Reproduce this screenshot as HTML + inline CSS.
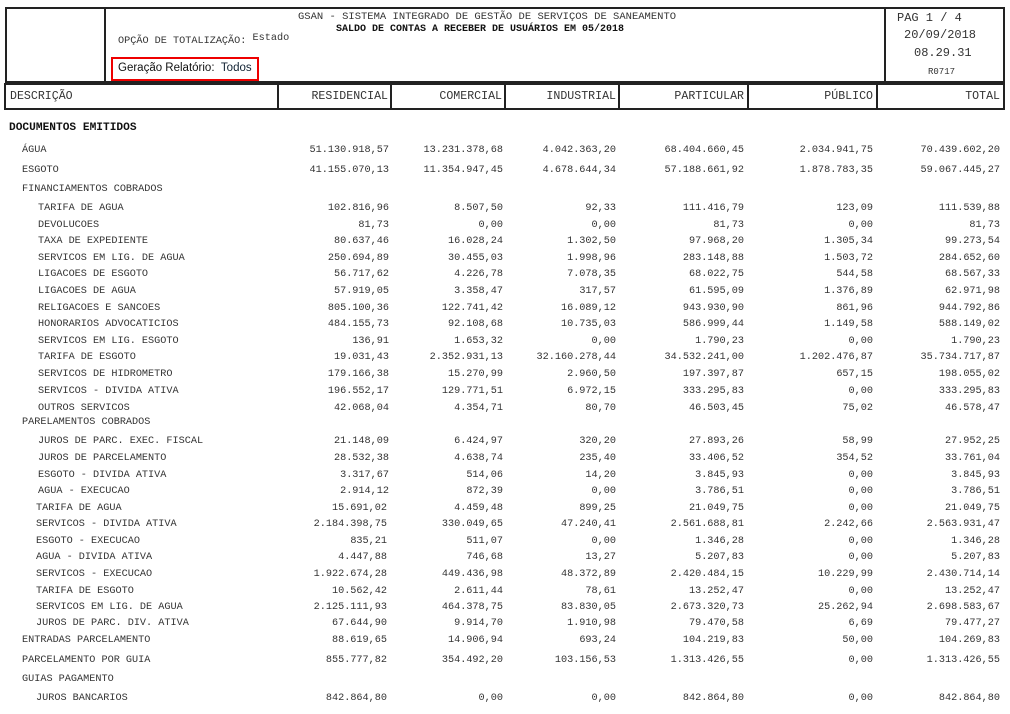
<!DOCTYPE html>
<html><head><meta charset="utf-8"><style>
body{margin:0;background:#fff;width:1010px;height:714px;position:relative;overflow:hidden;font-family:"Liberation Mono",monospace;color:#333}
.b{position:absolute;border:2px solid #222;box-sizing:border-box}
.t{position:absolute;white-space:nowrap;line-height:1}
.r{position:absolute;height:12px;left:0;width:1010px;font-size:10.2px;line-height:12px;margin-top:2px}
.r span{position:absolute;white-space:nowrap}
.c1{right:621px}.c2{right:507px}.c3{right:394px}.c4{right:266px}.c5{right:137px}.c6{right:10px}
.h{position:absolute;top:91px;font-size:11.6px;line-height:12px;white-space:nowrap}
</style></head><body>
<div class="b" style="left:5px;top:7px;width:1000px;height:76px"></div>
<div style="position:absolute;left:104px;top:7px;width:2px;height:76px;background:#222"></div>
<div style="position:absolute;left:884px;top:7px;width:2px;height:76px;background:#222"></div>
<div class="t" style="left:298px;top:12px;font-size:10.5px">GSAN - SISTEMA INTEGRADO DE GESTÃO DE SERVIÇOS DE SANEAMENTO</div>
<div class="t" style="left:336px;top:25px;font-size:10px;font-weight:bold;color:#111">SALDO DE CONTAS A RECEBER DE USUÁRIOS EM 05/2018</div>
<div class="t" style="left:118px;top:37px;font-size:10.2px">OPÇÃO DE TOTALIZAÇÃO: <span style="position:relative;top:-3px">Estado</span></div>
<div style="position:absolute;left:111px;top:57px;width:148px;height:24px;border:2px solid #e00;box-sizing:border-box"></div>
<div class="t" style="left:118px;top:63px;font-family:'Liberation Sans',sans-serif;font-size:11.5px;color:#111">Geração Relatório: &nbsp;<span style="color:#123">Todos</span></div>
<div class="t" style="left:897px;top:12px;font-size:12px">PAG 1 / 4</div>
<div class="t" style="left:904px;top:29px;font-size:12px">20/09/2018</div>
<div class="t" style="left:914px;top:47px;font-size:12px">08.29.31</div>
<div class="t" style="left:928px;top:68px;font-size:9px">R0717</div>
<div class="b" style="left:4px;top:83px;width:1001px;height:27px"></div>
<div style="position:absolute;left:277px;top:83px;width:2px;height:27px;background:#222"></div>
<div style="position:absolute;left:390px;top:83px;width:2px;height:27px;background:#222"></div>
<div style="position:absolute;left:504px;top:83px;width:2px;height:27px;background:#222"></div>
<div style="position:absolute;left:618px;top:83px;width:2px;height:27px;background:#222"></div>
<div style="position:absolute;left:747px;top:83px;width:2px;height:27px;background:#222"></div>
<div style="position:absolute;left:876px;top:83px;width:2px;height:27px;background:#222"></div>
<div class="h" style="left:10px">DESCRIÇÃO</div>
<div class="h" style="right:622px">RESIDENCIAL</div>
<div class="h" style="right:508px">COMERCIAL</div>
<div class="h" style="right:394px">INDUSTRIAL</div>
<div class="h" style="right:266px">PARTICULAR</div>
<div class="h" style="right:137px">PÚBLICO</div>
<div class="h" style="right:10px">TOTAL</div>
<div class="t" style="left:9px;top:123px;font-size:11.2px;font-weight:bold;color:#111">DOCUMENTOS EMITIDOS</div>

<div class="r" style="top:143px"><span style="left:22px">ÁGUA</span><span class="c1">51.130.918,57</span><span class="c2">13.231.378,68</span><span class="c3">4.042.363,20</span><span class="c4">68.404.660,45</span><span class="c5">2.034.941,75</span><span class="c6">70.439.602,20</span></div>
<div class="r" style="top:163px"><span style="left:22px">ESGOTO</span><span class="c1">41.155.070,13</span><span class="c2">11.354.947,45</span><span class="c3">4.678.644,34</span><span class="c4">57.188.661,92</span><span class="c5">1.878.783,35</span><span class="c6">59.067.445,27</span></div>
<div class="r" style="top:182px"><span style="left:22px">FINANCIAMENTOS COBRADOS</span></div>
<div class="r" style="top:201px"><span style="left:38px">TARIFA DE AGUA</span><span class="c1">102.816,96</span><span class="c2">8.507,50</span><span class="c3">92,33</span><span class="c4">111.416,79</span><span class="c5">123,09</span><span class="c6">111.539,88</span></div>
<div class="r" style="top:218px"><span style="left:38px">DEVOLUCOES</span><span class="c1">81,73</span><span class="c2">0,00</span><span class="c3">0,00</span><span class="c4">81,73</span><span class="c5">0,00</span><span class="c6">81,73</span></div>
<div class="r" style="top:234px"><span style="left:38px">TAXA DE EXPEDIENTE</span><span class="c1">80.637,46</span><span class="c2">16.028,24</span><span class="c3">1.302,50</span><span class="c4">97.968,20</span><span class="c5">1.305,34</span><span class="c6">99.273,54</span></div>
<div class="r" style="top:251px"><span style="left:38px">SERVICOS EM LIG. DE AGUA</span><span class="c1">250.694,89</span><span class="c2">30.455,03</span><span class="c3">1.998,96</span><span class="c4">283.148,88</span><span class="c5">1.503,72</span><span class="c6">284.652,60</span></div>
<div class="r" style="top:267px"><span style="left:38px">LIGACOES DE ESGOTO</span><span class="c1">56.717,62</span><span class="c2">4.226,78</span><span class="c3">7.078,35</span><span class="c4">68.022,75</span><span class="c5">544,58</span><span class="c6">68.567,33</span></div>
<div class="r" style="top:284px"><span style="left:38px">LIGACOES DE AGUA</span><span class="c1">57.919,05</span><span class="c2">3.358,47</span><span class="c3">317,57</span><span class="c4">61.595,09</span><span class="c5">1.376,89</span><span class="c6">62.971,98</span></div>
<div class="r" style="top:301px"><span style="left:38px">RELIGACOES E SANCOES</span><span class="c1">805.100,36</span><span class="c2">122.741,42</span><span class="c3">16.089,12</span><span class="c4">943.930,90</span><span class="c5">861,96</span><span class="c6">944.792,86</span></div>
<div class="r" style="top:317px"><span style="left:38px">HONORARIOS ADVOCATICIOS</span><span class="c1">484.155,73</span><span class="c2">92.108,68</span><span class="c3">10.735,03</span><span class="c4">586.999,44</span><span class="c5">1.149,58</span><span class="c6">588.149,02</span></div>
<div class="r" style="top:334px"><span style="left:38px">SERVICOS EM LIG. ESGOTO</span><span class="c1">136,91</span><span class="c2">1.653,32</span><span class="c3">0,00</span><span class="c4">1.790,23</span><span class="c5">0,00</span><span class="c6">1.790,23</span></div>
<div class="r" style="top:350px"><span style="left:38px">TARIFA DE ESGOTO</span><span class="c1">19.031,43</span><span class="c2">2.352.931,13</span><span class="c3">32.160.278,44</span><span class="c4">34.532.241,00</span><span class="c5">1.202.476,87</span><span class="c6">35.734.717,87</span></div>
<div class="r" style="top:367px"><span style="left:38px">SERVICOS DE HIDROMETRO</span><span class="c1">179.166,38</span><span class="c2">15.270,99</span><span class="c3">2.960,50</span><span class="c4">197.397,87</span><span class="c5">657,15</span><span class="c6">198.055,02</span></div>
<div class="r" style="top:384px"><span style="left:38px">SERVICOS - DIVIDA ATIVA</span><span class="c1">196.552,17</span><span class="c2">129.771,51</span><span class="c3">6.972,15</span><span class="c4">333.295,83</span><span class="c5">0,00</span><span class="c6">333.295,83</span></div>
<div class="r" style="top:401px"><span style="left:38px">OUTROS SERVICOS</span><span class="c1">42.068,04</span><span class="c2">4.354,71</span><span class="c3">80,70</span><span class="c4">46.503,45</span><span class="c5">75,02</span><span class="c6">46.578,47</span></div>
<div class="r" style="top:415px"><span style="left:22px">PARELAMENTOS COBRADOS</span></div>
<div class="r" style="top:434px"><span style="left:38px">JUROS DE PARC. EXEC. FISCAL</span><span class="c1">21.148,09</span><span class="c2">6.424,97</span><span class="c3">320,20</span><span class="c4">27.893,26</span><span class="c5">58,99</span><span class="c6">27.952,25</span></div>
<div class="r" style="top:451px"><span style="left:38px">JUROS DE PARCELAMENTO</span><span class="c1">28.532,38</span><span class="c2">4.638,74</span><span class="c3">235,40</span><span class="c4">33.406,52</span><span class="c5">354,52</span><span class="c6">33.761,04</span></div>
<div class="r" style="top:468px"><span style="left:38px">ESGOTO - DIVIDA ATIVA</span><span class="c1">3.317,67</span><span class="c2">514,06</span><span class="c3">14,20</span><span class="c4">3.845,93</span><span class="c5">0,00</span><span class="c6">3.845,93</span></div>
<div class="r" style="top:484px"><span style="left:38px">AGUA - EXECUCAO</span><span class="c1">2.914,12</span><span class="c2">872,39</span><span class="c3">0,00</span><span class="c4">3.786,51</span><span class="c5">0,00</span><span class="c6">3.786,51</span></div>
<div class="r" style="top:501px"><span style="left:36px">TARIFA DE AGUA</span><span class="c1" style="right:623px">15.691,02</span><span class="c2">4.459,48</span><span class="c3">899,25</span><span class="c4">21.049,75</span><span class="c5">0,00</span><span class="c6">21.049,75</span></div>
<div class="r" style="top:517px"><span style="left:36px">SERVICOS - DIVIDA ATIVA</span><span class="c1" style="right:623px">2.184.398,75</span><span class="c2">330.049,65</span><span class="c3">47.240,41</span><span class="c4">2.561.688,81</span><span class="c5">2.242,66</span><span class="c6">2.563.931,47</span></div>
<div class="r" style="top:534px"><span style="left:36px">ESGOTO - EXECUCAO</span><span class="c1" style="right:623px">835,21</span><span class="c2">511,07</span><span class="c3">0,00</span><span class="c4">1.346,28</span><span class="c5">0,00</span><span class="c6">1.346,28</span></div>
<div class="r" style="top:550px"><span style="left:36px">AGUA - DIVIDA ATIVA</span><span class="c1" style="right:623px">4.447,88</span><span class="c2">746,68</span><span class="c3">13,27</span><span class="c4">5.207,83</span><span class="c5">0,00</span><span class="c6">5.207,83</span></div>
<div class="r" style="top:567px"><span style="left:36px">SERVICOS - EXECUCAO</span><span class="c1" style="right:623px">1.922.674,28</span><span class="c2">449.436,98</span><span class="c3">48.372,89</span><span class="c4">2.420.484,15</span><span class="c5">10.229,99</span><span class="c6">2.430.714,14</span></div>
<div class="r" style="top:584px"><span style="left:36px">TARIFA DE ESGOTO</span><span class="c1" style="right:623px">10.562,42</span><span class="c2">2.611,44</span><span class="c3">78,61</span><span class="c4">13.252,47</span><span class="c5">0,00</span><span class="c6">13.252,47</span></div>
<div class="r" style="top:600px"><span style="left:36px">SERVICOS EM LIG. DE AGUA</span><span class="c1" style="right:623px">2.125.111,93</span><span class="c2">464.378,75</span><span class="c3">83.830,05</span><span class="c4">2.673.320,73</span><span class="c5">25.262,94</span><span class="c6">2.698.583,67</span></div>
<div class="r" style="top:616px"><span style="left:36px">JUROS DE PARC. DIV. ATIVA</span><span class="c1" style="right:623px">67.644,90</span><span class="c2">9.914,70</span><span class="c3">1.910,98</span><span class="c4">79.470,58</span><span class="c5">6,69</span><span class="c6">79.477,27</span></div>
<div class="r" style="top:633px"><span style="left:22px">ENTRADAS PARCELAMENTO</span><span class="c1" style="right:623px">88.619,65</span><span class="c2">14.906,94</span><span class="c3">693,24</span><span class="c4">104.219,83</span><span class="c5">50,00</span><span class="c6">104.269,83</span></div>
<div class="r" style="top:653px"><span style="left:22px">PARCELAMENTO POR GUIA</span><span class="c1" style="right:623px">855.777,82</span><span class="c2">354.492,20</span><span class="c3">103.156,53</span><span class="c4">1.313.426,55</span><span class="c5">0,00</span><span class="c6">1.313.426,55</span></div>
<div class="r" style="top:672px"><span style="left:22px">GUIAS PAGAMENTO</span></div>
<div class="r" style="top:691px"><span style="left:36px">JUROS BANCARIOS</span><span class="c1" style="right:623px">842.864,80</span><span class="c2">0,00</span><span class="c3">0,00</span><span class="c4">842.864,80</span><span class="c5">0,00</span><span class="c6">842.864,80</span></div>
</body></html>
